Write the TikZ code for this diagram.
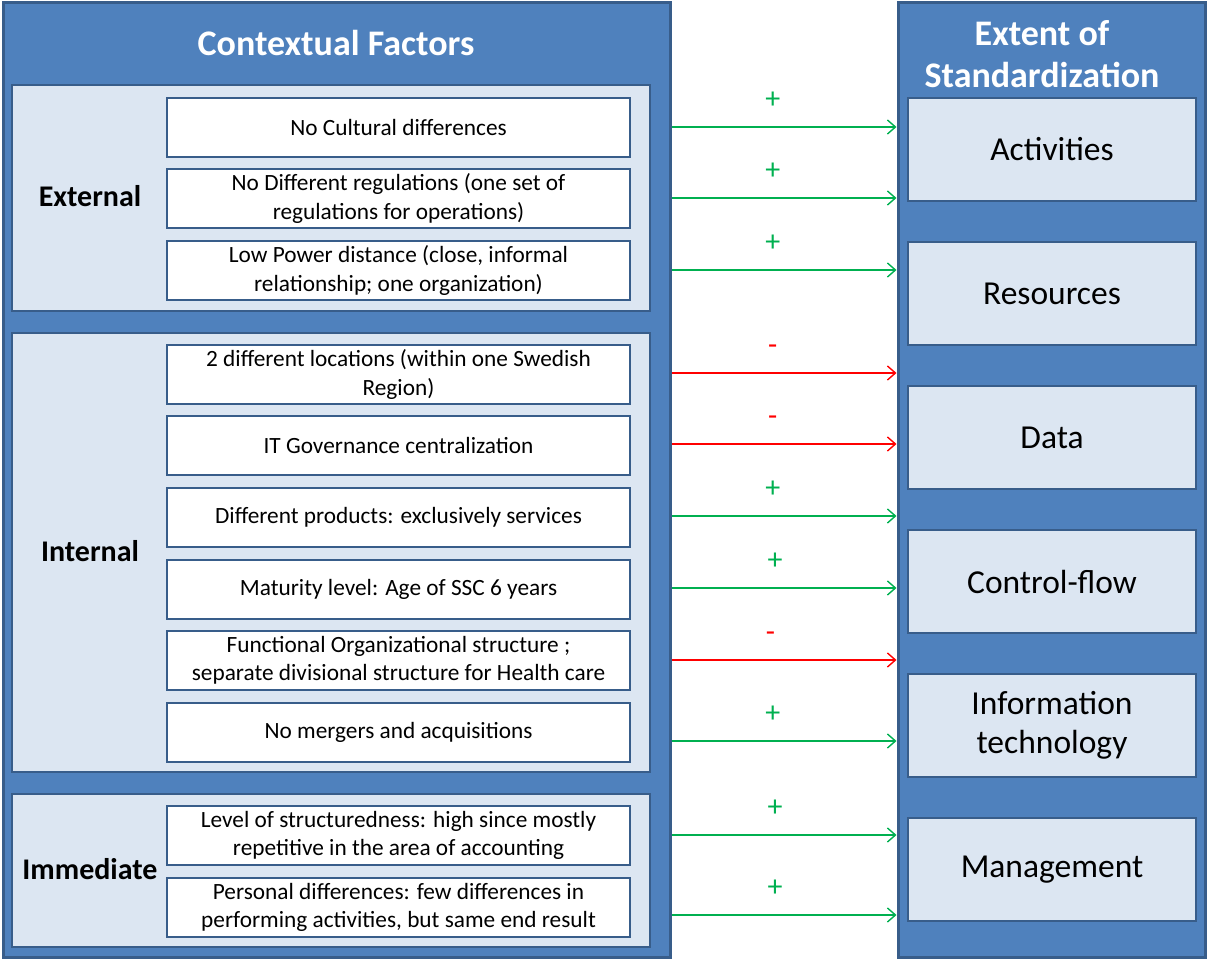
\documentclass[tikz,border=0pt]{standalone}
\usepackage{fontspec}
\setmainfont{Carlito}
\usetikzlibrary{arrows.meta}
\definecolor{panel}{HTML}{4F81BD}
\definecolor{edgeblue}{HTML}{385D8A}
\definecolor{lightblue}{HTML}{DCE6F2}
\definecolor{posgreen}{HTML}{00B050}
\definecolor{negred}{HTML}{FF0000}
\begin{document}
\begin{tikzpicture}[x=1pt,y=-1pt,
  panelbox/.style={draw=edgeblue,fill=panel,line width=3pt,minimum width=#1,inner sep=0pt},
  groupbox/.style={draw=edgeblue,fill=lightblue,line width=2.5pt,minimum width=638pt,minimum height=#1,inner sep=0pt},
  itembox/.style={draw=edgeblue,fill=white,line width=2.7pt,minimum width=463pt,minimum height=59pt,inner sep=0pt,align=center,font=\fontsize{23.3}{28.5}\selectfont},
  targetbox/.style={draw=edgeblue,fill=lightblue,line width=2.7pt,minimum width=288pt,minimum height=103pt,inner sep=0pt,align=center,font=\fontsize{33.5}{39}\selectfont},
  titletext/.style={text=white,font=\fontsize{36}{42}\selectfont\bfseries,align=center},
  grouplabel/.style={font=\fontsize{30}{34}\selectfont\bfseries},
  posarrow/.style={draw=posgreen,line width=1.4pt,-{Straight Barb[length=8pt,width=14pt,line width=1.4pt]}},
  negarrow/.style={draw=negred,line width=1.4pt,-{Straight Barb[length=8pt,width=14pt,line width=1.4pt]}},
  signlabel/.style={font=\fontsize{30}{30}\selectfont,inner sep=0pt}
]
\useasboundingbox (0,0) rectangle (1208,960);
% panels
\node[panelbox=667pt,minimum height=954pt] (lp) at (336.5,480) {};
\node[panelbox=307pt,minimum height=954pt] (rp) at (1051.5,480) {};
\node[titletext] (lt) at (336,43) {Contextual Factors};
\node[titletext] (rt) at (1042,54) {Extent of\\Standardization};
% groups
\node[groupbox=226pt] (gext) at (331,198) {};
\node[groupbox=439pt] (gint) at (331,552.5) {};
\node[groupbox=153pt] (gimm) at (331,870.5) {};
\node[grouplabel] (lext) at (90,196) {External};
\node[grouplabel] (lint) at (90,551) {Internal};
\node[grouplabel] (limm) at (90,869) {Immediate};
% items
\node[itembox] (i1) at (398.5,127.5) {No Cultural differences};
\node[itembox] (i2) at (398.5,198.5) {No Different regulations (one set of\\regulations for operations)};
\node[itembox] (i3) at (398.5,270.5) {Low Power distance (close, informal\\relationship; one organization)};
\node[itembox] (i4) at (398.5,374.5) {2 different locations (within one Swedish\\Region)};
\node[itembox] (i5) at (398.5,445.5) {IT Governance centralization};
\node[itembox] (i6) at (398.5,517.5) {Different products: exclusively services};
\node[itembox] (i7) at (398.5,589.5) {Maturity level: Age of SSC 6 years};
\node[itembox] (i8) at (398.5,660.5) {Functional Organizational structure ;\\separate divisional structure for Health care};
\node[itembox] (i9) at (398.5,732.5) {No mergers and acquisitions};
\node[itembox] (i10) at (398.5,835.5) {Level of structuredness: high since mostly\\repetitive in the area of accounting};
\node[itembox] (i11) at (398.5,907.5) {Personal differences: few differences in\\performing activities, but same end result};
% targets
\node[targetbox] (t1) at (1052,149.5) {Activities};
\node[targetbox] (t2) at (1052,293.5) {Resources};
\node[targetbox] (t3) at (1052,437.5) {Data};
\node[targetbox] (t4) at (1052,581.5) {Control-flow};
\node[targetbox] (t5) at (1052,725.5) {Information\\technology};
\node[targetbox] (t6) at (1052,869.5) {Management};
% arrows
\draw[posarrow] (lp.east |- 0,127) coordinate (s1) -- node[pos=0.45,above=18pt,signlabel,text=posgreen]{+} (rp.west |- s1);
\draw[posarrow] (lp.east |- 0,198) coordinate (s2) -- node[pos=0.45,above=18pt,signlabel,text=posgreen]{+} (rp.west |- s2);
\draw[posarrow] (lp.east |- 0,270) coordinate (s3) -- node[pos=0.45,above=18pt,signlabel,text=posgreen]{+} (rp.west |- s3);
\draw[negarrow] (lp.east |- 0,373) coordinate (s4) -- node[pos=0.45,above=18pt,signlabel,text=negred]{-} (rp.west |- s4);
\draw[negarrow] (lp.east |- 0,444) coordinate (s5) -- node[pos=0.45,above=18pt,signlabel,text=negred]{-} (rp.west |- s5);
\draw[posarrow] (lp.east |- 0,516) coordinate (s6) -- node[pos=0.45,above=18pt,signlabel,text=posgreen]{+} (rp.west |- s6);
\draw[posarrow] (lp.east |- 0,588) coordinate (s7) -- node[pos=0.46,above=18pt,signlabel,text=posgreen]{+} (rp.west |- s7);
\draw[negarrow] (lp.east |- 0,660) coordinate (s8) -- node[pos=0.44,above=18pt,signlabel,text=negred]{-} (rp.west |- s8);
\draw[posarrow] (lp.east |- 0,741) coordinate (s9) -- node[pos=0.45,above=18pt,signlabel,text=posgreen]{+} (rp.west |- s9);
\draw[posarrow] (lp.east |- 0,835) coordinate (s10) -- node[pos=0.46,above=18pt,signlabel,text=posgreen]{+} (rp.west |- s10);
\draw[posarrow] (lp.east |- 0,915) coordinate (s11) -- node[pos=0.46,above=18pt,signlabel,text=posgreen]{+} (rp.west |- s11);
\end{tikzpicture}
\end{document}
